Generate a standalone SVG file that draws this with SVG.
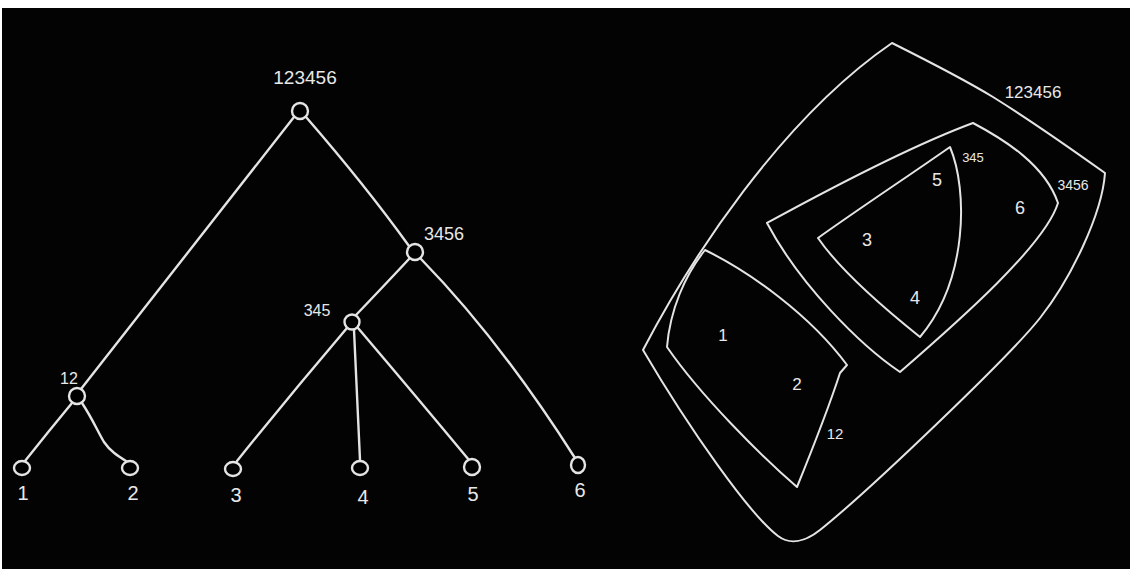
<svg xmlns="http://www.w3.org/2000/svg" width="1130" height="569" viewBox="0 0 1130 569">
<style>
.ln{fill:none;stroke:#e4e4e4;stroke-width:2.4;stroke-linecap:round;stroke-linejoin:round}
.rg{fill:none;stroke:#e4e4e4;stroke-width:2;stroke-linejoin:round}
.nd{fill:#000;stroke:#e4e4e4;stroke-width:2.4}
.t{font-family:"Liberation Sans",Arial,sans-serif;fill:#e8e8e8;text-anchor:middle;dominant-baseline:central}
</style>
<rect x="0" y="0" width="1130" height="569" fill="#ffffff"/>
<rect x="2" y="8" width="1128" height="561" fill="#030303"/>
<g id="connectors">
<path class="ln" d="M294,117 Q190,250 81,389"/>
<path class="ln" d="M306,117 Q365,185 409,246"/>
<path class="ln" d="M409,259 Q380,290 356,315"/>
<path class="ln" d="M421,259 Q500,340 575,458"/>
<path class="ln" d="M347,328 Q290,395 237,461"/>
<path class="ln" d="M354,330 Q357,400 360,460"/>
<path class="ln" d="M358,328 Q415,395 469,460"/>
<path class="ln" d="M72,403 Q48,432 25,461"/>
<path class="ln" d="M82,403 C92,418 98,432 104,442 C110,451 118,456 126,461"/>
</g>
<g id="n123456"><circle class="nd" cx="300" cy="111" r="8"/><text class="t" x="305" y="77" font-size="19">123456</text></g>
<g id="n3456"><circle class="nd" cx="415" cy="252" r="8"/><text class="t" x="444" y="234" font-size="18">3456</text></g>
<g id="n345"><circle class="nd" cx="352" cy="322" r="7.5"/><text class="t" x="317" y="310" font-size="16">345</text></g>
<g id="n12"><circle class="nd" cx="77" cy="396" r="8"/><text class="t" x="69" y="378" font-size="16">12</text></g>
<g id="n1"><ellipse class="nd" cx="22" cy="468" rx="8" ry="7"/><text class="t" x="23" y="493" font-size="20">1</text></g>
<g id="n2"><ellipse class="nd" cx="130" cy="468" rx="8" ry="7"/><text class="t" x="133" y="493" font-size="20">2</text></g>
<g id="n3"><ellipse class="nd" cx="233" cy="469" rx="8" ry="7"/><text class="t" x="236" y="495" font-size="20">3</text></g>
<g id="n4"><ellipse class="nd" cx="360" cy="468" rx="8" ry="7"/><text class="t" x="363" y="497" font-size="20">4</text></g>
<g id="n5"><ellipse class="nd" cx="472" cy="467" rx="8" ry="8"/><text class="t" x="473" y="494" font-size="20">5</text></g>
<g id="n6"><ellipse class="nd" cx="578" cy="465" rx="7" ry="8"/><text class="t" x="580" y="490" font-size="20">6</text></g>
<g id="set123456">
<path class="rg" d="M892,43 C920,57 960,77 993,97 C1030,120 1070,148 1105,173 C1102,215 1070,280 1040,318 C1010,356 870,490 820,530 C805,542 790,545 778,536 C750,515 690,430 643,350 C690,260 780,120 892,43 Z"/>
<text class="t" x="1033" y="92" font-size="17">123456</text>
</g>
<g id="set3456">
<path class="rg" d="M767,223 C800,205 900,150 973,123 C1005,140 1045,165 1058,203 C1045,245 960,320 900,372 C860,345 800,285 767,223 Z"/>
<text class="t" x="1073" y="185" font-size="14">3456</text>
<text class="t" x="1020" y="208" font-size="18">6</text>
</g>
<g id="set345">
<path class="rg" d="M818,238 C860,208 910,175 950,147 C968,190 968,280 920,337 C880,305 840,270 818,238 Z"/>
<text class="t" x="973" y="157" font-size="13">345</text>
<text class="t" x="937" y="180" font-size="18">5</text>
<text class="t" x="867" y="240" font-size="18">3</text>
<text class="t" x="915" y="298" font-size="18">4</text>
</g>
<g id="set12">
<path class="rg" d="M705,250 C750,272 810,315 847,365 L840,373 C828,410 810,455 797,487 C760,455 700,395 667,347 C670,310 685,275 705,250 Z"/>
<text class="t" x="723" y="335" font-size="17">1</text>
<text class="t" x="797" y="384" font-size="17">2</text>
<text class="t" x="835" y="433" font-size="15">12</text>
</g>
</svg>
